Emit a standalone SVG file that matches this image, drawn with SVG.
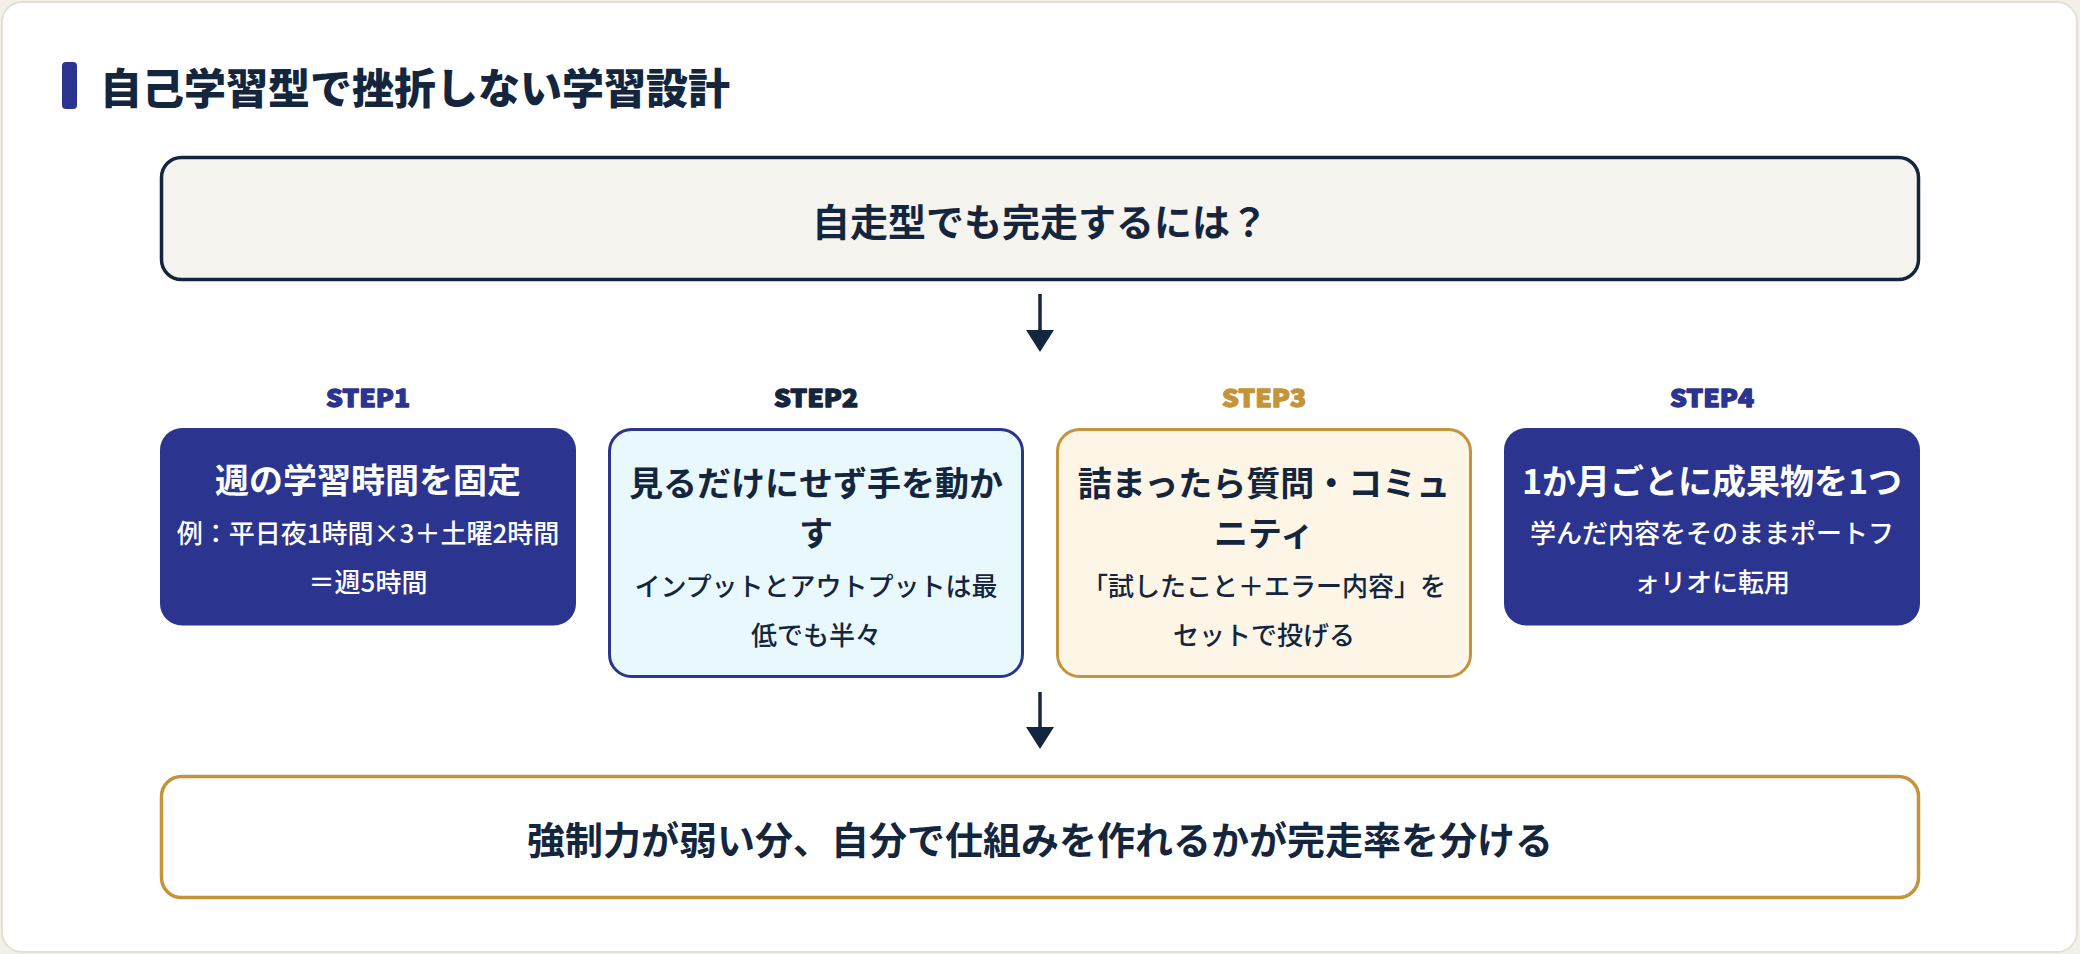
<svg xmlns="http://www.w3.org/2000/svg" width="2080" height="954" viewBox="0 0 2080 954">
<style>
  text { font-family: "Noto Sans CJK JP", "Noto Sans", sans-serif; }
  .title { font-size: 42px; font-weight: 900; fill: #14263e; }
  .big { font-size: 38px; font-weight: 700; fill: #14263e; text-anchor: middle; }
  .step { font-size: 24px; font-weight: 900; text-anchor: middle; stroke-width: 1.3; stroke-linejoin: round; }
  .h { font-size: 34px; font-weight: 700; text-anchor: middle; }
  .b { font-size: 26px; font-weight: 500; text-anchor: middle; }
  .light { fill: #ffffff; }
  .dark { fill: #14263e; }
  .conn { stroke: #14263e; stroke-width: 3.5; fill: none; }
</style>
<defs>
  <marker id="ah" markerUnits="userSpaceOnUse" markerWidth="22" markerHeight="28" refX="10" refY="14" orient="auto">
    <path d="M0,0 L22,14 L0,28 Z" fill="#14263e"/>
  </marker>
</defs>
<rect x="0" y="0" width="2080" height="954" fill="#f2f0e8"/>
<rect x="2" y="2" width="2075" height="950" rx="20" fill="#ffffff" stroke="#e3e0d3" stroke-width="2"/>

<g id="heading">
  <rect x="62" y="62" width="15" height="47" rx="4" fill="#2b3590"/>
  <text class="title" x="100" y="103.5">自己学習型で挫折しない学習設計</text>
</g>

<g id="question">
  <rect x="161.5" y="157.5" width="1757" height="122" rx="20" fill="#f5f4ef" stroke="#14263e" stroke-width="3.5"/>
  <text class="big" x="1040" y="236.4">自走型でも完走するには？</text>
</g>

<g id="connectors">
  <path class="conn" d="M1040,294 L1040,340" marker-end="url(#ah)"/>
  <path class="conn" d="M1040,692 L1040,737" marker-end="url(#ah)"/>
</g>

<g id="step1">
  <text class="step" x="368" y="407" fill="#2b3590" stroke="#2b3590" textLength="84" lengthAdjust="spacingAndGlyphs">STEP1</text>
  <rect x="160" y="428" width="416" height="197.5" rx="22" fill="#2b3590"/>
  <text class="h light" x="368" y="493">週の学習時間を固定</text>
  <text class="b light" x="368" y="543">例：平日夜1時間×3＋土曜2時間</text>
  <text class="b light" x="368" y="592">＝週5時間</text>
</g>

<g id="step2">
  <text class="step" x="816" y="407" fill="#14263e" stroke="#14263e" textLength="84" lengthAdjust="spacingAndGlyphs">STEP2</text>
  <rect x="609.5" y="429.5" width="413" height="247" rx="22" fill="#e9f8fd" stroke="#2b3590" stroke-width="3"/>
  <text class="h dark" x="816" y="496">見るだけにせず手を動か</text>
  <text class="h dark" x="816" y="545.5">す</text>
  <text class="b dark" x="816" y="596.4">インプットとアウトプットは最</text>
  <text class="b dark" x="816" y="645">低でも半々</text>
</g>

<g id="step3">
  <text class="step" x="1264" y="407" fill="#c4943a" stroke="#c4943a" textLength="84" lengthAdjust="spacingAndGlyphs">STEP3</text>
  <rect x="1057.5" y="429.5" width="413" height="247" rx="22" fill="#fdf5e6" stroke="#c4943a" stroke-width="3"/>
  <text class="h dark" x="1264" y="496">詰まったら質問・コミュ</text>
  <text class="h dark" x="1264" y="545.5">ニティ</text>
  <text class="b dark" x="1264" y="596.4">「試したこと＋エラー内容」を</text>
  <text class="b dark" x="1264" y="645">セットで投げる</text>
</g>

<g id="step4">
  <text class="step" x="1712" y="407" fill="#2b3590" stroke="#2b3590" textLength="84" lengthAdjust="spacingAndGlyphs">STEP4</text>
  <rect x="1504" y="428" width="416" height="197.5" rx="22" fill="#2b3590"/>
  <text class="h light" x="1712" y="493.5">1か月ごとに成果物を1つ</text>
  <text class="b light" x="1712" y="543">学んだ内容をそのままポートフ</text>
  <text class="b light" x="1712" y="592">ォリオに転用</text>
</g>

<g id="conclusion">
  <rect x="161.5" y="776.5" width="1757" height="121" rx="20" fill="#ffffff" stroke="#c4943a" stroke-width="3.5"/>
  <text class="big" x="1040" y="854">強制力が弱い分、自分で仕組みを作れるかが完走率を分ける</text>
</g>
</svg>
